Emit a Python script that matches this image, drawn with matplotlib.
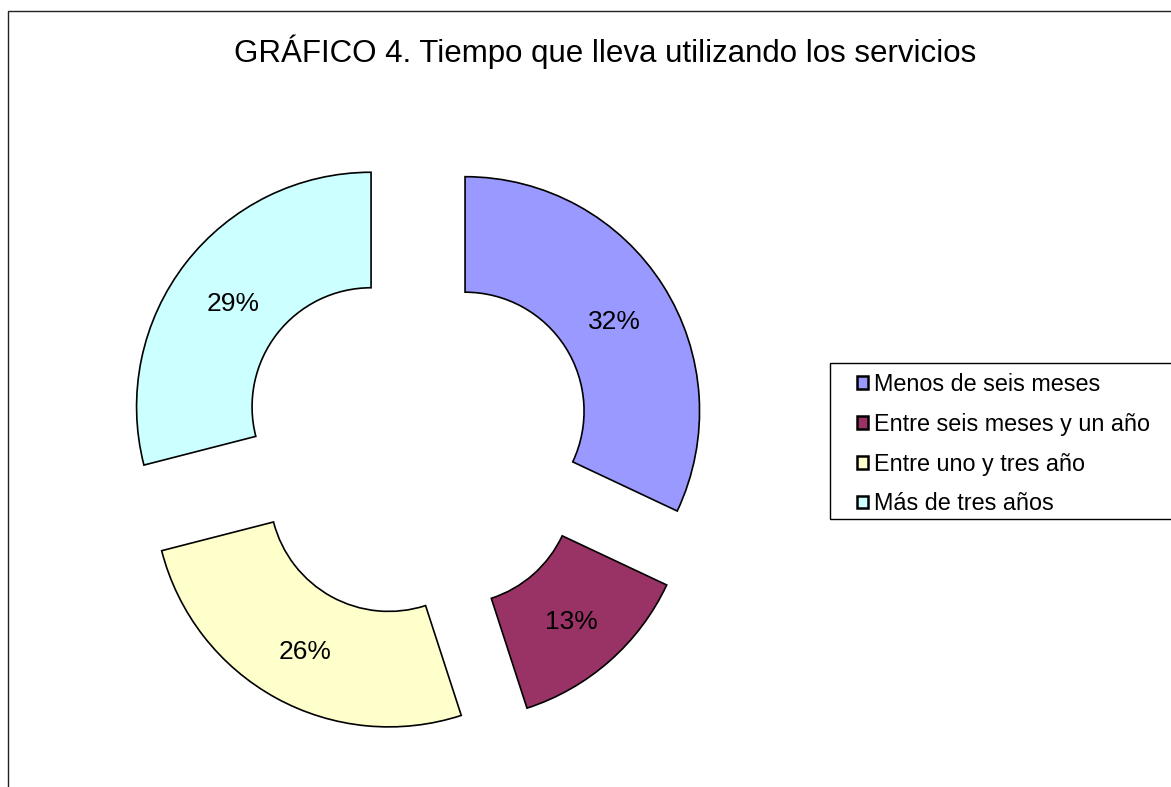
import matplotlib
matplotlib.use('Agg')
import matplotlib.pyplot as plt
from matplotlib.patches import Rectangle, Patch

plt.rcParams['font.family'] = ['Liberation Sans', 'DejaVu Sans']

# data
categorias = ['Menos de seis meses', 'Entre seis meses y un año',
              'Entre uno y tres año', 'Más de tres años']
porcentajes = [32, 13, 26, 29]
colores = ['#9999FF', '#993366', '#FFFFCC', '#CCFFFF']
titulo = 'GRÁFICO 4. Tiempo que lleva utilizando los servicios'

W, H = 1171, 787
fig = plt.figure(figsize=(W / 100, H / 100), dpi=100)
ax = fig.add_axes([0, 0, 1, 1])

# pie drawn in pixel units (y up)
R = 234.5
wedges, _, autotexts = ax.pie(porcentajes, colors=colores, startangle=90,
                              counterclock=False, radius=R,
                              center=(416.5, H - 442),
                              explode=[57.5] * len(porcentajes),
                              autopct='%.0f%%', pctdistance=0.75,
                              wedgeprops=dict(width=115.5, edgecolor='black',
                                              linewidth=1.2),
                              textprops=dict(fontsize=19, color='black'))
# nudge labels down a bit, like the original
for t in autotexts:
    x, y = t.get_position()
    t.set_position((x + 1, y - 5))

ax.set_xlim(0, W)
ax.set_ylim(0, H)
ax.set_aspect('equal')
ax.axis('off')

# outer chart frame (only top and left visible)
ax.add_patch(Rectangle((8, -50), W + 100, H - 11 + 50, fill=False,
                       edgecolor='#222222', linewidth=1.0))

ax.text(605, H - 52, titulo, ha='center', va='center', fontsize=22.5)

# legend box, runs off the right edge
ax.add_patch(Rectangle((830, H - 519), 400, 156, fill=False,
                       edgecolor='black', linewidth=1.0))
handles = [Patch(facecolor=c, edgecolor='black', linewidth=1.8) for c in colores]
leg = ax.legend(handles, categorias, loc='upper left',
                bbox_to_anchor=(857, H - 373), bbox_transform=ax.transData,
                fontsize=16.8, handlelength=0.45, handleheight=0.45,
                handletextpad=0.28, labelspacing=0.72, borderpad=0,
                borderaxespad=0, frameon=False)

fig.savefig('out.png', dpi=100)
